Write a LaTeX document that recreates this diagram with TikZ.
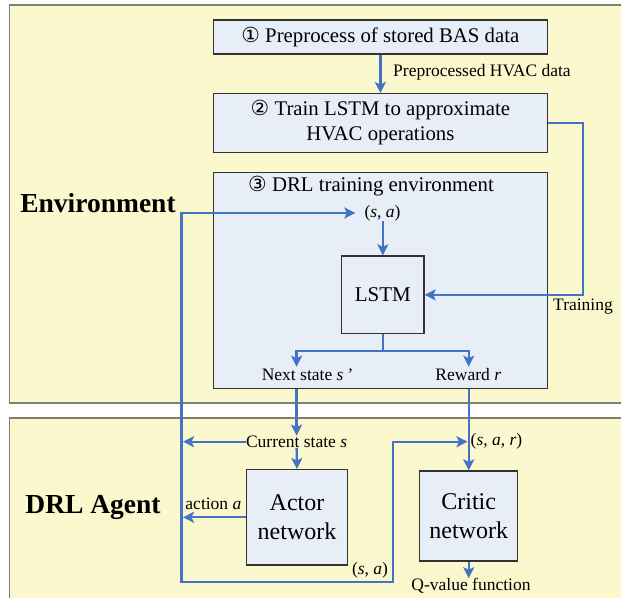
\documentclass[tikz,border=0pt]{standalone}
\usepackage{fontspec}
\setmainfont{Liberation Serif}
\newfontfamily\symfont{DejaVu Sans}
\usetikzlibrary{arrows.meta}
\definecolor{panelfill}{HTML}{FBF8CD}
\definecolor{boxfill}{HTML}{E8EEF7}
\definecolor{flow}{HTML}{4472C4}
\definecolor{panelline}{HTML}{7F7F70}
\begin{document}
\begin{tikzpicture}[x=1pt,y=-1pt,
  panel/.style={draw=panelline, line width=1.8pt, fill=panelfill},
  box/.style={draw=black!80, line width=1.3pt, fill=boxfill, inner sep=0pt, align=center},
  arr/.style={draw=flow, line width=2.3pt, -{Stealth[length=11pt,width=11pt,inset=2.5pt]}},
  dblarr/.style={draw=flow, line width=2.3pt, {Stealth[length=11pt,width=11pt,inset=2.5pt]}-{Stealth[length=11pt,width=11pt,inset=2.5pt]}},
  ln/.style={draw=flow, line width=2.3pt},
  lbl/.style={inner sep=0pt, font=\fontsize{17.5}{21}\selectfont},
  main/.style={font=\fontsize{20.8}{25}\selectfont},
  big/.style={font=\fontsize{24}{28.5}\selectfont},
  title/.style={inner sep=0pt, font=\fontsize{27.5}{32}\selectfont\bfseries},
]
\useasboundingbox (0,0) rectangle (621,597);
\clip (0,0) rectangle (621,597);
\fill[white] (0,0) rectangle (621,597);
\path[panel] (9.5,4.7) rectangle (640,402.7);
\path[panel] (9.5,417.7) rectangle (640,620);

% titles
\node[title] (env) at (98,203) {Environment};
\node[title] (agent) at (93,507.3) {DRL Agent};

% environment boxes
\node[box, main, minimum width=333.8pt, minimum height=34pt] (b1) at (380.4,37) {{\symfont ①} Preprocess of stored BAS data};
\node[box, main, minimum width=333.8pt, minimum height=58.6pt] (b2) at (380.4,123) {{\symfont ②} Train LSTM to approximate\\HVAC operations};
\node[box, minimum width=333.8pt, minimum height=216pt] (b3) at (380.4,280.3) {};
\node[main, inner sep=0pt] (t3) at (371,186) {{\symfont ③} DRL training environment};
\node[box, font=\fontsize{21}{25}\selectfont, minimum width=82.3pt, minimum height=77.7pt] (lstm) at (382.85,294.85) {LSTM};

\node[lbl, anchor=west] (ppl) at (393,72) {Preprocessed HVAC data};
\node[lbl] (sa) at (382.5,213) {(\textit{s}, \textit{a})};
\node[lbl] (trl) at (583,306.7) {Training};
\node[lbl] (ns) at (307,375) {Next state \textit{s\,’}};
\node[lbl] (rw) at (468.3,375) {Reward \textit{r}};

% agent
\node[lbl] (cs) at (296.6,441.7) {Current state \textit{s}};
\node[box, big, minimum width=100.6pt, minimum height=95.3pt] (actor) at (297,517.3) {Actor\\network};
\node[box, big, minimum width=97.8pt, minimum height=90pt] (critic) at (468.7,516) {Critic\\network};
\node[lbl] (act) at (213.4,503.3) {action \textit{a}};
\node[lbl, anchor=west] (sar) at (470.5,441.7) {(\textit{s}, \textit{a}, \textit{r})};
\node[lbl] (sa2) at (370,570.7) {(\textit{s}, \textit{a})};
\node[lbl] (qv) at (471,586) {Q-value function};

% coordinates
\coordinate (tr) at (583,123);
\coordinate (sp) at (382.85,351);
\coordinate (nsin) at (296.6,366.7);
\coordinate (rwin) at (468.7,366.7);
\coordinate (L1) at (181.5,213);
\coordinate (L2) at (181.5,581.7);
\coordinate (L3) at (392.9,581.7);
\coordinate (L4) at (392.9,441.7);
\coordinate (sarin) at (467.5,441.7);
\coordinate (csout) at (183,441.7);
\coordinate (actout) at (183,517.3);

% connectors
\draw[arr] (b1.south) -- (b2.north);
\draw[arr] (b2.east) -- (tr) |- (lstm.east);
\draw[arr] (sa.south -| lstm.north) -- (lstm.north);
\draw[ln] (lstm.south) -- (sp);
\draw[arr] (sp) -| (nsin);
\draw[arr] (sp) -| (rwin);
\draw[arr] (b3.south -| nsin) -- (cs.north -| nsin);
\draw[arr] (cs.west) -- (csout);
\draw[arr] (cs.south) -- (actor.north);
\draw[arr] (actor.west) -- (actout);
\draw[arr] (b3.south -| critic.north) -- (critic.north);
\draw[dblarr, shorten <=9pt] (sa.west) -- (L1) -- (L2) -- (L3) -- (L4) -- (sarin);
\draw[arr] (critic.south) -- (critic.south |- qv.north);
\end{tikzpicture}
\end{document}
